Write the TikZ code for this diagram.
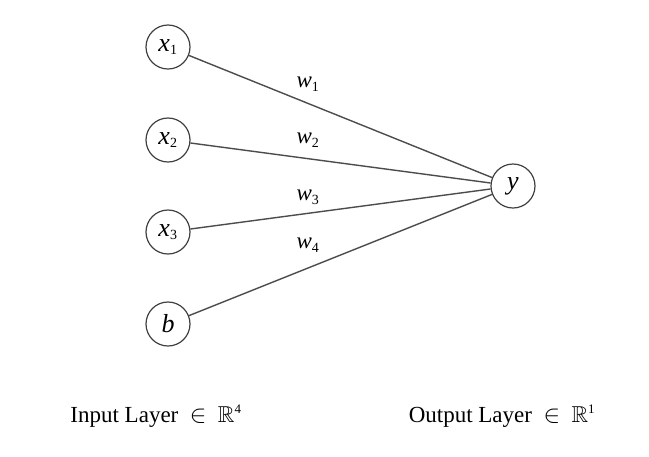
\documentclass[tikz,border=0pt]{standalone}
\usepackage{amssymb}
\usepackage{fontspec}
\setmainfont{Liberation Serif}
\begin{document}
\begin{tikzpicture}[x=1pt,y=-1pt,
  neuron/.style={circle,draw=black!75,line width=1.2pt,minimum size=44pt,inner sep=0pt,font=\fontsize{26}{28}\selectfont\itshape},
  conn/.style={draw=black!70,line width=1.4pt},
  wlab/.style={font=\fontsize{23}{25}\selectfont\itshape},
  layercap/.style={font=\fontsize{23}{25}\selectfont}]
\useasboundingbox (0,0) rectangle (649,456);
\node[neuron] (x1) at (168,47) {x\textsubscript{\upshape\fontsize{14}{14}\selectfont 1}};
\node[neuron] (x2) at (168,140) {x\textsubscript{\upshape\fontsize{14}{14}\selectfont 2}};
\node[neuron] (x3) at (168,232) {x\textsubscript{\upshape\fontsize{14}{14}\selectfont 3}};
\node[neuron] (b) at (168,324) {b};
\node[neuron] (y) at (513,186) {y};
\foreach \n in {x1,x2,x3,b} \draw[conn] (\n) -- (y);
\node[wlab] (w1) at (308,84) {w\textsubscript{\upshape\fontsize{14}{14}\selectfont 1}};
\node[wlab] (w2) at (308,140) {w\textsubscript{\upshape\fontsize{14}{14}\selectfont 2}};
\node[wlab] (w3) at (308,197) {w\textsubscript{\upshape\fontsize{14}{14}\selectfont 3}};
\node[wlab] (w4) at (308,245) {w\textsubscript{\upshape\fontsize{14}{14}\selectfont 4}};
\node[layercap] (in) at (156,416) {Input Layer\enspace$\in$\enspace$\mathbb{R}$\textsuperscript{\fontsize{13}{13}\selectfont 4}};
\node[layercap] (out) at (502,416) {Output Layer\enspace$\in$\enspace$\mathbb{R}$\textsuperscript{\fontsize{13}{13}\selectfont 1}};
\end{tikzpicture}
\end{document}
